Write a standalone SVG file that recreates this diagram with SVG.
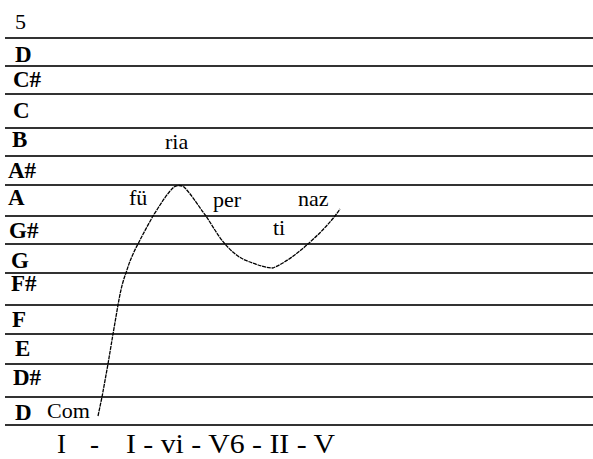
<svg xmlns="http://www.w3.org/2000/svg" width="593" height="459" viewBox="0 0 593 459">
<style>
.ln{stroke:#333;stroke-width:2;fill:none}
.lb{font-family:"Liberation Serif",serif;font-size:23px;font-weight:bold;fill:#000}
.sy{font-family:"Liberation Serif",serif;font-size:22px;fill:#000}
.ch{font-family:"Liberation Serif",serif;font-size:27px;fill:#000}
.cv{stroke:#000;stroke-width:1.3;fill:none;stroke-dasharray:4 0.8;stroke-linejoin:round}
</style>
<rect width="593" height="459" fill="#fff"/>
<g id="staff">
<line class="ln" x1="5" y1="38" x2="593" y2="38"/>
<line class="ln" x1="5" y1="66" x2="593" y2="66"/>
<line class="ln" x1="5" y1="94" x2="593" y2="94"/>
<line class="ln" x1="5" y1="128" x2="593" y2="128"/>
<line class="ln" x1="5" y1="156" x2="593" y2="156"/>
<line class="ln" x1="5" y1="185" x2="593" y2="185"/>
<line class="ln" x1="5" y1="216" x2="593" y2="216"/>
<line class="ln" x1="5" y1="244" x2="593" y2="244"/>
<line class="ln" x1="5" y1="273" x2="593" y2="273"/>
<line class="ln" x1="5" y1="305" x2="593" y2="305"/>
<line class="ln" x1="5" y1="334" x2="593" y2="334"/>
<line class="ln" x1="5" y1="364" x2="593" y2="364"/>
<line class="ln" x1="5" y1="397" x2="593" y2="397"/>
<line class="ln" x1="5" y1="425" x2="593" y2="425"/>
</g>
<g id="labels">
<text class="sy" x="15" y="29">5</text>
<text class="lb" x="15" y="62">D</text>
<text class="lb" x="13" y="87">C#</text>
<text class="lb" x="13" y="118">C</text>
<text class="lb" x="12" y="147">B</text>
<text class="lb" x="8" y="178">A#</text>
<text class="lb" x="8" y="205">A</text>
<text class="lb" x="9" y="238">G#</text>
<text class="lb" x="11" y="268">G</text>
<text class="lb" x="11" y="291">F#</text>
<text class="lb" x="12" y="327">F</text>
<text class="lb" x="15" y="356">E</text>
<text class="lb" x="13" y="385">D#</text>
<text class="lb" x="15" y="420">D</text>
</g>
<g id="syllables">
<text class="sy" x="165" y="149">ria</text>
<text class="sy" x="129" y="205">fü</text>
<text class="sy" x="213" y="207">per</text>
<text class="sy" x="298" y="206">naz</text>
<text class="sy" x="273" y="235">ti</text>
<text class="sy" x="47" y="418">Com</text>
</g>
<g id="connectors">
<path class="cv" d="M98,416 L102,397 L108,364 L113,334 L118,305 C120,294 122,283 126,273 C129,263 133,253 138,244 C143,234 148,225 153,216 C160,205 168,192 174,187 C177,185 181,185 184,187 C192,195 199,207 206,216 C212,225 218,236 225,244 C232,252 240,259 250,262 C258,265 266,268 273,268 C285,263 298,253 308,244 C318,235 327,226 335,216 L340,209"/>
</g>
<g id="chords">
<text class="ch" x="57" y="453">I</text>
<text class="ch" x="90" y="453">-</text>
<text class="ch" x="126" y="453" textLength="209" lengthAdjust="spacingAndGlyphs">I - vi - V6 - II - V</text>
</g>
</svg>
